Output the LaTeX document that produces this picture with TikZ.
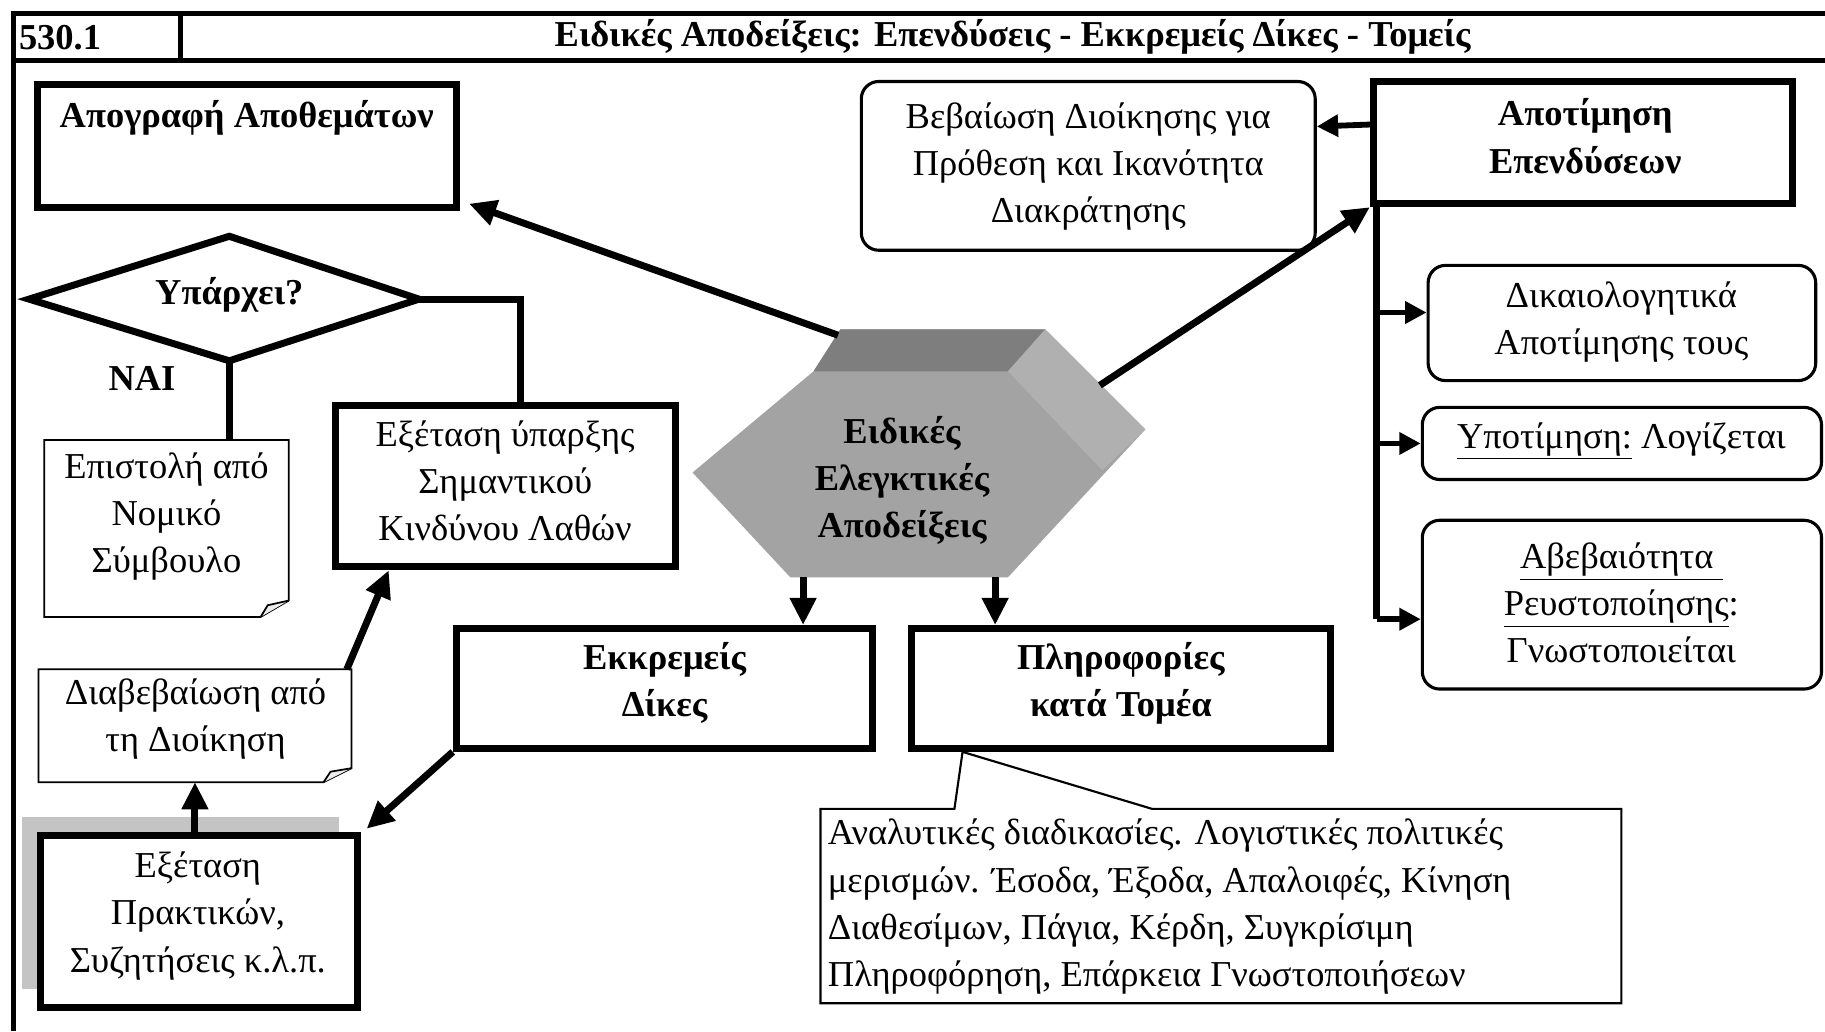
\documentclass[tikz,border=0pt]{standalone}
\usepackage{fontspec}
\setmainfont{Liberation Serif}
\usetikzlibrary{arrows.meta,calc,fit}
\definecolor{hexfront}{HTML}{A3A3A3}
\definecolor{hextop}{HTML}{7E7E7E}
\definecolor{hexright}{HTML}{B0B0B0}
\definecolor{shadowgray}{HTML}{C4C4C4}
\begin{document}
\begin{tikzpicture}[x=0.6pt,y=-0.6pt,
  thickbox/.style={draw,line width=3.6pt,inner sep=0pt},
  rbox/.style={draw,line width=1.6pt,rounded corners=9pt,inner sep=0pt},
  ghost/.style={inner sep=0pt,outer sep=0pt},
  txt/.style={align=center,font=\fontsize{18.8}{24.3}\selectfont,inner sep=0pt},
  btxt/.style={align=center,font=\fontsize{18.8}{24.3}\selectfont\bfseries,inner sep=0pt},
  thickline/.style={line width=3.6pt},
  arr/.style={line width=3.6pt,-{Triangle[length=14pt,width=13pt]}},
  sarr/.style={line width=3pt,-{Triangle[length=11pt,width=11pt]}},
  thinline/.style={line width=0.9pt},
  ]
\useasboundingbox (0,0) rectangle (1568,886);
\fill[white] (0,0) rectangle (1568,886);

% frame and header
\draw[line width=2.6pt] (12,886) -- (12,12) -- (1568,12);
\draw[line width=2.6pt] (12,52) -- (1568,52);
\draw[line width=2.6pt] (155,12) -- (155,52);
\node[btxt,anchor=west] (num) at (16,32) {530.1};
\node[btxt] (title) at (870,32) {Ειδικές Αποδείξεις: Επενδύσεις - Εκκρεμείς Δίκες - Τομείς};

% inventory box
\node[thickbox,fit={(32,73) (392,178)}] (inv) {};
\node[btxt] (invt) at (212,101) {Απογραφή Αποθεμάτων};

% decision diamond
\coordinate (dL) at (25,257);
\coordinate (dT) at (197,203);
\coordinate (dR) at (360,257);
\coordinate (dB) at (197,310);
\draw[thickline,line join=miter] (dL) -- (dT) -- (dR) -- (dB) -- cycle;
\node[btxt] (dq) at (197,253) {Υπάρχει?};
\node[btxt] (yes) at (122,325) {NAI};

% risk box
\node[thickbox,fit={(288,348) (580,487)}] (risk) {};
\node[txt] (riskt) at (434,413) {Εξέταση ύπαρξης\\Σημαντικού\\Κινδύνου Λαθών};

% letter note
\node[ghost,fit={(38,378) (248,530)}] (letter) {};
\draw[thinline,fill=white] (letter.north west) -- (letter.north east) -- ($(letter.south east)+(0,-14)$) -- ($(letter.south east)+(-24,0)$) -- (letter.south west) -- cycle;
\draw[thinline,fill=gray!15] ($(letter.south east)+(-24,0)$) -- ($(letter.south east)+(-18,-10)$) -- ($(letter.south east)+(0,-14)$);
\node[txt] (lettert) at (143,444) {Επιστολή από\\Νομικό\\Σύμβουλο};

% assurance note
\node[ghost,fit={(33,575) (302,672)}] (assure) {};
\draw[thinline,fill=white] (assure.north west) -- (assure.north east) -- ($(assure.south east)+(0,-12)$) -- ($(assure.south east)+(-24,0)$) -- (assure.south west) -- cycle;
\draw[thinline,fill=gray!15] ($(assure.south east)+(-24,0)$) -- ($(assure.south east)+(-18,-9)$) -- ($(assure.south east)+(0,-12)$);
\node[txt] (assuret) at (168,618) {Διαβεβαίωση από\\τη Διοίκηση};

% minutes box with shadow
\fill[shadowgray] (19,702) rectangle (291,850);
\node[thickbox,fill=white,fit={(35,718) (307,866)}] (minutes) {};
\node[txt] (minutest) at (170,787) {Εξέταση\\Πρακτικών,\\Συζητήσεις κ.λ.π.};

% pending and segments
\node[thickbox,fit={(392,540) (750,643)}] (pend) {};
\node[btxt] (pendt) at (571,587) {Εκκρεμείς\\Δίκες};
\node[thickbox,fit={(783,540) (1143,643)}] (seg) {};
\node[btxt] (segt) at (963,587) {Πληροφορίες\\κατά Τομέα};

% central hexagon
\coordinate (hL) at (595,406);
\coordinate (hTL) at (699,319);
\coordinate (hTR) at (866,319);
\coordinate (hBTL) at (722,283);
\coordinate (hBTR) at (898,283);
\coordinate (hRB) at (984,369);
\coordinate (hRF) at (947,404);
\coordinate (hBR) at (866,496);
\coordinate (hBL) at (679,496);
\fill[hexfront] (hL) -- (hTL) -- (hBTL) -- (hBTR) -- (hRB) -- (hBR) -- (hBL) -- cycle;
\fill[hextop] (hTL) -- (hBTL) -- (hBTR) -- (hTR) -- cycle;
\fill[hexright] (hTR) -- (hBTR) -- (hRB) -- (hRF) -- cycle;
\node[btxt] (hext) at (775,413) {Ειδικές\\Ελεγκτικές\\Αποδείξεις};

% valuation cluster
\node[thickbox,fit={(1180,70) (1540,175)}] (val) {};
\node[btxt] (valt) at (1362,117) {Αποτίμηση\\Επενδύσεων};
\node[rbox,fit={(740,70) (1130,215)}] (hold) {};
\node[txt] (holdt) at (935,143) {Βεβαίωση Διοίκησης για\\Πρόθεση και Ικανότητα\\Διακράτησης};
\node[rbox,fit={(1227,228) (1560,327)}] (just) {};
\node[txt] (justt) at (1393,277) {Δικαιολογητικά\\Αποτίμησης τους};
\node[rbox,fit={(1222,350) (1565,412)}] (under) {};
\node[txt] (undert) at (1393,379) {\underline{Υποτίμηση:} Λογίζεται};
\node[rbox,fit={(1222,447) (1565,592)}] (unc) {};
\node[txt] (unct) at (1393,518) {\underline{Αβεβαιότητα\ }\\\underline{Ρευστοποίησης}:\\Γνωστοποιείται};

% callout
\node[ghost,fit={(705,695) (1393,862)}] (note) {};
\coordinate (tip) at ($(seg.south west)+(47,0)$);
\draw[line width=1.1pt,fill=white] (note.north west) -- ($(note.north west)+(115,0)$) -- (tip) -- ($(note.north west)+(285,0)$) -- (note.north east) -- (note.south east) -- (note.south west) -- cycle;
\node[txt,align=left,anchor=west] (notet) at (711,779) {Αναλυτικές διαδικασίες. Λογιστικές πολιτικές\\μερισμών. Έσοδα, Έξοδα, Απαλοιφές, Κίνηση\\Διαθεσίμων, Πάγια, Κέρδη, Συγκρίσιμη\\Πληροφόρηση, Επάρκεια Γνωστοποιήσεων};

% connectors
\draw[thickline] (dR) -| ($(risk.north)+(13,0)$);
\draw[thickline] (dB) -- (dB |- letter.north);
\draw[arr] (minutes.north -| assure.south) -- (assure.south);
\draw[arr] ($(assure.north east)+(-4,0)$) -- ($(risk.south west)+(49,0)$);
\draw[arr] (pend.south west) -- ($(minutes.north east)+(5,-3)$);

\coordinate (hexA) at (720,288);
\coordinate (hexB) at (945,331);
\coordinate (hexC) at (690,496);
\coordinate (hexD) at (855,496);
\draw[arr] (hexA) -- ($(inv.south east)+(8,-6)$);
\draw[arr] (hexB) -- (val.south west);
\draw[arr] (hexC) -- (hexC |- pend.north);
\draw[arr] (hexD) -- (hexD |- seg.north);

\draw[sarr] ($(val.north west)+(0,40)$) -- ($(hold.north east)+(0,40)$);
\coordinate (busT) at (1183,175);
\coordinate (busB) at (1183,532);
\draw[thickline] (busT) -- (busB);
\draw[sarr] ($(busT |- just.west)+(0,-9)$) -- ($(just.west)+(0,-9)$);
\draw[sarr] (busT |- under.west) -- (under.west);
\draw[sarr] (busB) -- (busB -| unc.west);
\end{tikzpicture}
\end{document}
